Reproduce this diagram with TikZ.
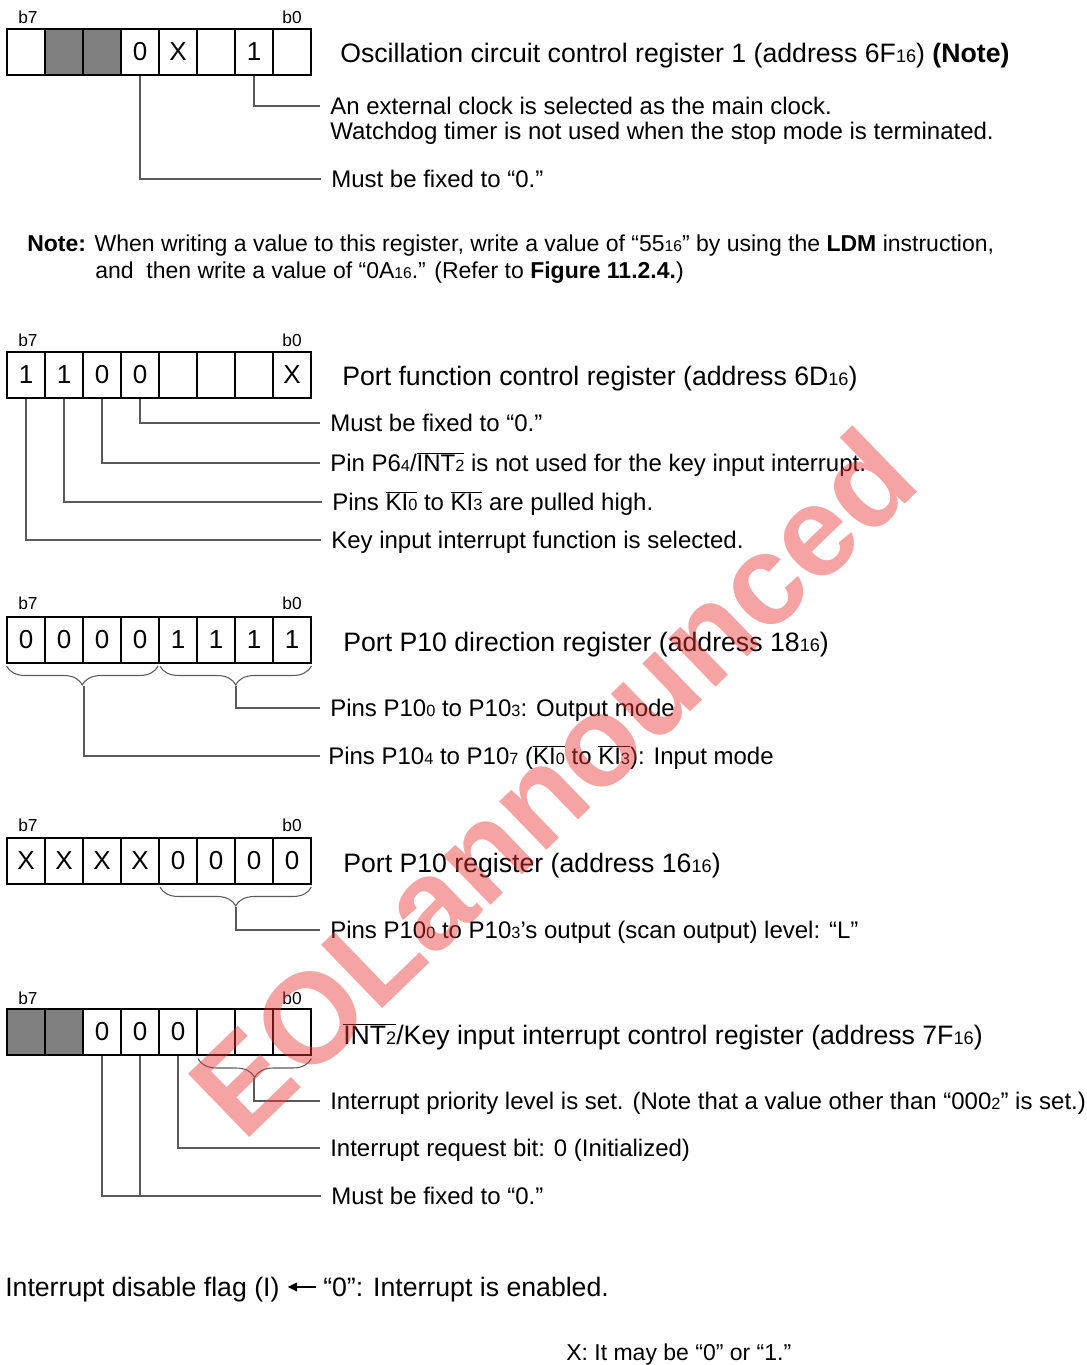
\documentclass[tikz,border=0pt]{standalone}
\usepackage{fontspec}
\setmainfont{Liberation Sans}
\usetikzlibrary{decorations.pathreplacing,arrows.meta}
\definecolor{cellgray}{RGB}{128,128,128}
\definecolor{leadgray}{RGB}{90,90,90}
\definecolor{wmred}{RGB}{235,50,50}
\newcommand\sbs[1]{\scalebox{0.68}{#1}}
\newcommand\ovl[1]{$\overline{\hbox{#1}}$}
\begin{document}
\begin{tikzpicture}[x=0.75pt,y=-0.75pt,
  cell/.style={draw, line width=1.5pt, minimum width=28.5pt, minimum height=34.5pt, inner sep=0pt, font=\fontsize{19.5pt}{19.5pt}\selectfont},
  gcell/.style={cell, fill=cellgray},
  bitlbl/.style={inner sep=0pt, font=\fontsize{13pt}{13pt}\selectfont},
  txt/.style={anchor=west, inner sep=0pt, text height=13pt, text depth=0pt, font=\fontsize{18pt}{21pt}\selectfont},
  ttl/.style={anchor=west, inner sep=0pt, text height=14.4pt, text depth=0pt, font=\fontsize{20pt}{23pt}\selectfont},
  notetxt/.style={txt, font=\fontsize{17.25pt}{20pt}\selectfont},
  leader/.style={draw=leadgray, line width=0.8pt},
  brc/.style={draw=leadgray, line width=0.8pt, decorate, decoration={brace, mirror, amplitude=14pt}},
  wm/.style={text=wmred, opacity=0.45, inner sep=0pt, font=\fontsize{96pt}{96pt}\selectfont\bfseries}]
\useasboundingbox (0,0) rectangle (1087,1365);

% ---------- Register 1 ----------
\node[bitlbl] (a7l) at (28,17) {b7};
\node[bitlbl] (a0l) at (292,17) {b0};
\foreach \v/\s [count=\i from 0] in {{}/cell,{}/gcell,{}/gcell,0/cell,X/cell,{}/cell,1/cell,{}/cell}
  \node[\s] (a\i) at ({26+38*\i},52) {\v};
\node[ttl] (r1t) at (340,53) {Oscillation circuit control register 1 (address 6F\sbs{16}) \textbf{(Note)}};
\node[txt] (t1a) at (330,106) {An external clock is selected as the main clock.};
\node[txt] (t1b) at (330,131) {Watchdog timer is not used when the stop mode is terminated.};
\node[txt] (t1c) at (331,179) {Must be fixed to “0.”};
\draw[leader] (a6.south) |- ([xshift=-7.5pt]t1a.west);
\draw[leader] (a3.south) |- ([xshift=-7.5pt]t1c.west);

% ---------- Note ----------
\node[notetxt] (n1) at (27,243) {\textbf{Note:} When writing a value to this register, write a value of “55\sbs{16}” by using the \textbf{LDM} instruction,};
\node[notetxt] (n2) at (95,270) {and\ \ then write a value of “0A\sbs{16}.” (Refer to \textbf{Figure 11.2.4.})};

% ---------- Register 2 ----------
\node[bitlbl] (b7l) at (28,340) {b7};
\node[bitlbl] (b0l) at (292,340) {b0};
\foreach \v/\s [count=\i from 0] in {1/cell,1/cell,0/cell,0/cell,{}/cell,{}/cell,{}/cell,X/cell}
  \node[\s] (b\i) at ({26+38*\i},375) {\v};
\node[ttl] (r2t) at (342,376) {Port function control register (address 6D\sbs{16})};
\node[txt] (t2a) at (330,423) {Must be fixed to “0.”};
\node[txt] (t2b) at (330,463) {Pin P6\sbs{4}/\ovl{INT\sbs{2}} is not used for the key input interrupt.};
\node[txt] (t2c) at (332,502) {Pins \ovl{KI\sbs{0}} to \ovl{KI\sbs{3}} are pulled high.};
\node[txt] (t2d) at (331,540) {Key input interrupt function is selected.};
\draw[leader] (b3.south) |- ([xshift=-7.5pt]t2a.west);
\draw[leader] (b2.south) |- ([xshift=-7.5pt]t2b.west);
\draw[leader] (b1.south) |- ([xshift=-7.5pt]t2c.west);
\draw[leader] (b0.south) |- ([xshift=-7.5pt]t2d.west);

% ---------- Register 3 ----------
\node[bitlbl] (c7l) at (28,603) {b7};
\node[bitlbl] (c0l) at (292,603) {b0};
\foreach \v/\s [count=\i from 0] in {0/cell,0/cell,0/cell,0/cell,1/cell,1/cell,1/cell,1/cell}
  \node[\s] (c\i) at ({26+38*\i},639.5) {\v};
\node[ttl] (r3t) at (343,642) {Port P10 direction register (address 18\sbs{16})};
\draw[brc] ([xshift=0.5pt,yshift=-2pt]c0.south west) -- ([xshift=-1.5pt,yshift=-2pt]c3.south east);
\draw[brc] ([xshift=1.5pt,yshift=-2pt]c4.south west) -- ([xshift=-0.5pt,yshift=-2pt]c7.south east);
\coordinate (cL) at ([yshift=-16.5pt]c1.south east);
\coordinate (cR) at ([yshift=-16.5pt]c5.south east);
\node[txt] (t3a) at (330,708) {Pins P10\sbs{0} to P10\sbs{3}: Output mode};
\node[txt] (t3b) at (328,756) {Pins P10\sbs{4} to P10\sbs{7} (\ovl{KI\sbs{0}} to \ovl{KI\sbs{3}}): Input mode};
\draw[leader] (cR) |- ([xshift=-7.5pt]t3a.west);
\draw[leader] (cL) |- ([xshift=-6pt]t3b.west);

% ---------- Register 4 ----------
\node[bitlbl] (d7l) at (28,825) {b7};
\node[bitlbl] (d0l) at (292,825) {b0};
\foreach \v/\s [count=\i from 0] in {X/cell,X/cell,X/cell,X/cell,0/cell,0/cell,0/cell,0/cell}
  \node[\s] (d\i) at ({26+38*\i},860.5) {\v};
\node[ttl] (r4t) at (343,863) {Port P10 register (address 16\sbs{16})};
\draw[brc] ([xshift=1.5pt,yshift=-2pt]d4.south west) -- ([xshift=-0.5pt,yshift=-2pt]d7.south east);
\coordinate (dR) at ([yshift=-16.5pt]d5.south east);
\node[txt] (t4a) at (330,930) {Pins P10\sbs{0} to P10\sbs{3}’s output (scan output) level: “L”};
\draw[leader] (dR) |- ([xshift=-7.5pt]t4a.west);

% ---------- Register 5 ----------
\node[bitlbl] (e7l) at (28,998) {b7};
\node[bitlbl] (e0l) at (292,998) {b0};
\foreach \v/\s [count=\i from 0] in {{}/gcell,{}/gcell,0/cell,0/cell,0/cell,{}/cell,{}/cell,{}/cell}
  \node[\s] (e\i) at ({26+38*\i},1032) {\v};
\node[ttl] (r5t) at (343,1035) {\ovl{INT\sbs{2}}/Key input interrupt control register (address 7F\sbs{16})};
\draw[brc] ([xshift=1.5pt,yshift=-2pt]e5.south west) -- ([xshift=-0.5pt,yshift=-2pt]e7.south east);
\coordinate (eR) at ([yshift=-16.5pt]e6.south);
\node[txt] (t5a) at (330,1101) {Interrupt priority level is set. (Note that a value other than “000\sbs{2}” is set.)};
\node[txt] (t5b) at (330,1148) {Interrupt request bit: 0 (Initialized)};
\node[txt] (t5c) at (331,1196) {Must be fixed to “0.”};
\draw[leader] (eR) |- ([xshift=-7.5pt]t5a.west);
\draw[leader] (e4.south) |- ([xshift=-7.5pt]t5b.west);
\draw[leader] (e2.south) |- ([xshift=-7.5pt]t5c.west);
\draw[leader] (e3.south) |- ([xshift=-7.5pt]t5c.west);

% ---------- Bottom ----------
\node[ttl] (f1) at (5,1287) {Interrupt disable flag (I)};
\node[ttl] (f2) at (323,1287) {“0”: Interrupt is enabled.};
\draw[line width=1.5pt, -{Triangle[length=7pt,width=6.5pt]}] ([xshift=-5pt]f2.west) -- ([xshift=6pt]f1.east);
\node[notetxt] (xn) at (566,1352) {X: It may be “0” or “1.”};

% ---------- Watermark ----------
\node[wm, rotate=44] (wmk) at (552,782) {EOLannounced};
\end{tikzpicture}
\end{document}
